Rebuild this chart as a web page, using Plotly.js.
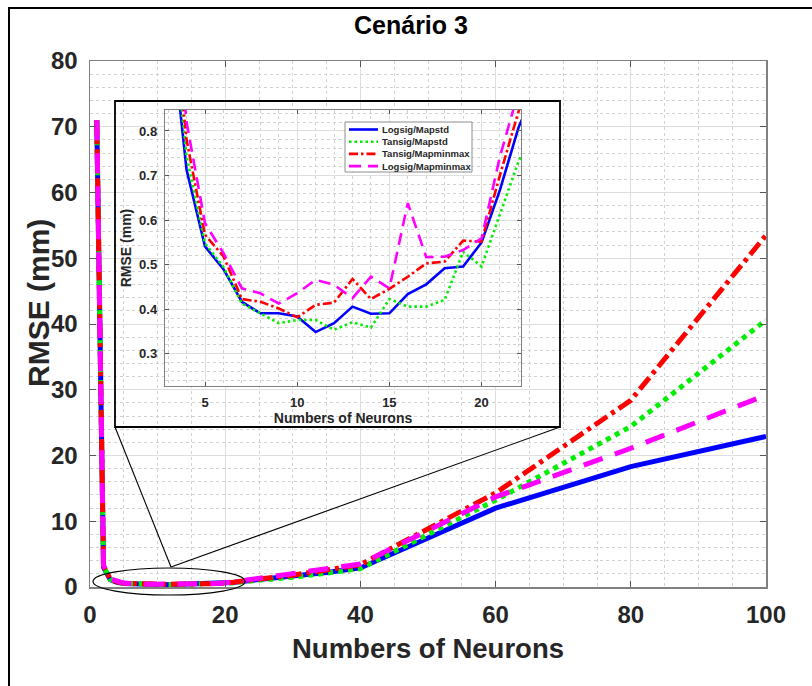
<!DOCTYPE html>
<html>
<head>
<meta charset="utf-8">
<script src="https://cdn.plot.ly/plotly-3.0.1.min.js"></script>
<style>html,body{margin:0;padding:0;background:#fff;}#chart{width:812px;height:686px;}</style>
</head>
<body>
<div id="chart"></div>
<script>
// ---- data ----
var neurons = [1,2,3,4,5,6,7,8,9,10,11,12,13,14,15,16,17,18,19,20,21,22,25,30,35,40,60,80,100];
var logsigMapstd = [71,3.0,1.1,0.713,0.541,0.49,0.417,0.391,0.391,0.384,0.349,0.369,0.406,0.39,0.391,0.434,0.456,0.492,0.496,0.55,0.668,0.807,1.1,1.6,2.2,2.9,12.0,18.3,22.9];
var tansigMapstd = [71,3.1,1.15,0.743,0.548,0.495,0.413,0.391,0.369,0.376,0.376,0.354,0.371,0.359,0.423,0.406,0.406,0.421,0.529,0.496,0.615,0.731,1.0,1.5,2.1,2.8,13.2,24.4,40.6];
var tansigMapminmax = [71,3.2,1.2,0.78,0.567,0.519,0.423,0.417,0.402,0.382,0.41,0.415,0.468,0.423,0.446,0.473,0.503,0.507,0.554,0.552,0.701,0.843,1.2,1.8,2.6,3.4,14.3,28.4,53.5];
var logsigMapminmax = [71,3.3,1.25,0.82,0.593,0.526,0.447,0.436,0.413,0.436,0.466,0.455,0.425,0.473,0.447,0.638,0.517,0.518,0.533,0.559,0.743,0.88,1.3,2.0,2.8,3.5,13.7,21.1,29.2];
var seriesNames = ['Logsig/Mapstd','Tansig/Mapstd','Tansig/Mapminmax','Logsig/Mapminmax'];
var mainXTicks = [0,20,40,60,80,100];
var mainYTicks = [0,10,20,30,40,50,60,70,80];
var insetXTicks = [5,10,15,20];
var insetYTicks = [0.3,0.4,0.5,0.6,0.7,0.8];
var titleText = 'Cenário 3';
var xTitle = 'Numbers of Neurons';
var yTitle = 'RMSE (mm)';

// ---- styles ----
var seriesData = [logsigMapstd, tansigMapstd, tansigMapminmax, logsigMapminmax];
var colors = ['#0000ff','#00ee00','#ff0000','#ff00ff'];
var mainDash = ['solid','5px,5px','15px,5px,4px,5px','20px,13px'];
var insetDash = ['solid','2.5px,3px','9px,3px,2.5px,3px','12px,7px'];
var FONT = 'Liberation Sans, Arial, sans-serif';
var TXT = '#262626';

// pixel -> paper helpers (main plot area: x 90..766, y 61..587)
var L = 90, R = 766, T = 61, B = 587;
function px(p){ return (p - L) / (R - L); }
function py(p){ return (B - p) / (B - T); }
// pixel -> inset-domain helpers (inset plot area: x 165..521, y 110..386)
var IL = 165, IR = 521, IT = 110, IB = 386;
function ix(p){ return (p - IL) / (IR - IL); }
function iy(p){ return (IB - p) / (IB - IT); }

var traces = [];
for (var i = 0; i < 4; i++) {
  traces.push({x: neurons, y: seriesData[i], type: 'scatter', mode: 'lines', name: seriesNames[i],
    xaxis: 'x', yaxis: 'y', showlegend: false, hoverinfo: 'skip',
    line: {color: colors[i], width: 5, dash: mainDash[i]}});
}
for (var j = 0; j < 4; j++) {
  traces.push({x: neurons, y: seriesData[j], type: 'scatter', mode: 'lines', name: seriesNames[j],
    xaxis: 'x2', yaxis: 'y2', showlegend: false, hoverinfo: 'skip',
    line: {color: colors[j], width: 2.6, dash: insetDash[j]}});
}

var gridMajor = '#dedede', gridMinor = '#d2d2d2', axisCol = '#808080';

var layout = {
  width: 812, height: 686,
  margin: {l: L, r: 812 - R, t: T, b: 686 - B, pad: 0},
  paper_bgcolor: '#ffffff', plot_bgcolor: '#ffffff',
  showlegend: false,
  font: {family: FONT, color: TXT},
  xaxis: {domain: [0,1], range: [0,100], tickvals: mainXTicks, ticks: 'inside', ticklen: 6, tickcolor: '#555',
    showline: true, linecolor: axisCol, linewidth: 1.5, mirror: 'ticks', zeroline: false,
    showgrid: true, gridcolor: gridMajor, gridwidth: 1,
    minor: {dtick: 5, tick0: 0, showgrid: true, gridcolor: gridMinor, griddash: 'dot', gridwidth: 1, ticks: ''},
    tickfont: {size: 24, weight: 'bold', color: TXT, family: FONT}, ticklabelstandoff: 6,
    title: {text: xTitle, font: {size: 27.5, weight: 'bold', color: TXT, family: FONT}, standoff: 11}},
  yaxis: {domain: [0,1], range: [0,80], tickvals: mainYTicks, ticks: 'inside', ticklen: 6, tickcolor: '#555',
    showline: true, linecolor: axisCol, linewidth: 1.5, mirror: 'ticks', zeroline: false,
    showgrid: true, gridcolor: gridMajor, gridwidth: 1,
    minor: {dtick: 2, tick0: 0, showgrid: true, gridcolor: gridMinor, griddash: 'dot', gridwidth: 1, ticks: ''},
    tickfont: {size: 24, weight: 'bold', color: TXT, family: FONT}, ticklabelstandoff: 6},
  // inset axes
  xaxis2: {domain: [px(IL), px(IR)], range: [2.83, 22.14], anchor: 'y2', tickvals: insetXTicks, ticks: 'inside', ticklen: 4, tickcolor: '#555',
    showline: true, linecolor: axisCol, linewidth: 1.2, mirror: 'ticks', zeroline: false,
    showgrid: true, gridcolor: gridMajor, gridwidth: 1,
    minor: {dtick: 1, tick0: 0, showgrid: true, gridcolor: gridMinor, griddash: 'dot', gridwidth: 1, ticks: ''},
    tickfont: {size: 13, weight: 'bold', color: TXT, family: FONT}, ticklabelstandoff: 4,
    title: {text: xTitle, font: {size: 14, weight: 'bold', color: TXT, family: FONT}, standoff: 3}},
  yaxis2: {domain: [py(IB), py(IT)], range: [0.228, 0.847], anchor: 'x2', tickvals: insetYTicks, ticktext: insetYTicks.map(function(v){return v.toFixed(1);}),
    ticks: 'inside', ticklen: 4, tickcolor: '#555',
    showline: true, linecolor: axisCol, linewidth: 1.2, mirror: 'ticks', zeroline: false,
    showgrid: true, gridcolor: gridMajor, gridwidth: 1,
    minor: {dtick: 0.02, tick0: 0, showgrid: true, gridcolor: gridMinor, griddash: 'dot', gridwidth: 1, ticks: ''},
    tickfont: {size: 13, weight: 'bold', color: TXT, family: FONT}, ticklabelstandoff: 4,
    title: {text: yTitle, font: {size: 14, weight: 'bold', color: TXT, family: FONT}, standoff: 4}},
  shapes: [
    // white inset box fill (drawn under the inset's grid, over the main plot)
    {type: 'rect', xref: 'x2 domain', yref: 'y2 domain', layer: 'below',
     x0: ix(115), x1: ix(560), y0: iy(427), y1: iy(101), fillcolor: '#ffffff', line: {width: 0}},
    // inset box border
    {type: 'rect', xref: 'paper', yref: 'paper', layer: 'above',
     x0: px(115), x1: px(560), y0: py(427), y1: py(101), line: {color: '#000', width: 1.8}},
    // outer frame
    {type: 'path', xref: 'paper', yref: 'paper', layer: 'above',
     path: 'M ' + px(9) + ',' + py(720) + ' L ' + px(9) + ',' + py(8) + ' L ' + px(830) + ',' + py(8),
     line: {color: '#000', width: 2}},
    // zoom ellipse
    {type: 'circle', xref: 'paper', yref: 'paper', layer: 'above',
     x0: px(93), x1: px(245), y0: py(595), y1: py(568), line: {color: '#000', width: 1.2}},
    // connecting lines
    {type: 'line', xref: 'paper', yref: 'paper', layer: 'above',
     x0: px(171), y0: py(567), x1: px(115), y1: py(427), line: {color: '#000', width: 1.1}},
    {type: 'line', xref: 'paper', yref: 'paper', layer: 'above',
     x0: px(171), y0: py(567), x1: px(560), y1: py(427), line: {color: '#000', width: 1.1}},
    // inset legend box
    {type: 'rect', xref: 'paper', yref: 'paper', layer: 'above',
     x0: px(345), x1: px(472), y0: py(172), y1: py(122), fillcolor: '#ffffff', line: {color: '#8c8c8c', width: 1}}
  ],
  annotations: [
    {text: titleText, xref: 'paper', yref: 'paper', x: px(411), y: py(25), xanchor: 'center', yanchor: 'middle',
     showarrow: false, font: {size: 25, weight: 'bold', color: '#000', family: FONT}},
    {text: yTitle, xref: 'paper', yref: 'paper', x: px(38), y: py(303), xanchor: 'center', yanchor: 'middle', textangle: -90,
     showarrow: false, font: {size: 30, weight: 'bold', color: TXT, family: FONT}}
  ]
};

// manual inset legend
for (var k = 0; k < 4; k++) {
  var rowY = 129.5 + k * 12.2;
  layout.shapes.push({type: 'line', xref: 'paper', yref: 'paper', layer: 'above',
    x0: px(349), x1: px(378), y0: py(rowY), y1: py(rowY), line: {color: colors[k], width: 2.6, dash: insetDash[k]}});
  layout.annotations.push({text: seriesNames[k], xref: 'paper', yref: 'paper', x: px(380), y: py(rowY),
    xanchor: 'left', yanchor: 'middle', showarrow: false,
    font: {size: 9.5, weight: 'bold', color: TXT, family: FONT}});
}

Plotly.newPlot('chart', traces, layout, {staticPlot: true, displayModeBar: false});
</script>
</body>
</html>
